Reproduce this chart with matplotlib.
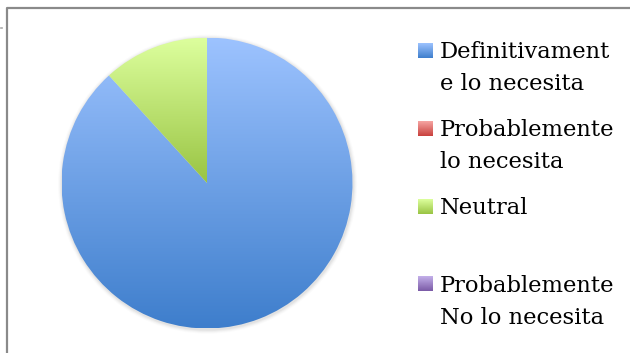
import numpy as np
import matplotlib
matplotlib.use("Agg")
import matplotlib.pyplot as plt
from matplotlib.colors import LinearSegmentedColormap
from matplotlib.patches import Circle

# survey answers
categories = ["Definitivamente lo necesita", "Probablemente lo necesita",
              "Neutral", "Probablemente No lo necesita"]
legend_labels = ["Definitivament\ne lo necesita", "Probablemente\nlo necesita",
                 "Neutral", "Probablemente\nNo lo necesita"]
counts = [15, 0, 2, 0]

# top/bottom colours of each slice gradient
grad_top = ["#9dc3ff", "#f6a5a3", "#ddff9e", "#c4b0ea"]
grad_bottom = ["#3e7ecc", "#c8403c", "#99c443", "#7a5aa6"]

W, H, DPI = 630, 353, 100
fig = plt.figure(figsize=(W / DPI, H / DPI), dpi=DPI)
fig.patch.set_facecolor("white")

# overlay in pixel units for frame and legend
over = fig.add_axes([0, 0, 1, 1])
over.axis("off")
over.plot([7, 7, W + 5], [H + 5, 8, 8], color="#8a8a8a", lw=1.6, solid_capstyle="butt")
over.plot([0.5, 2], [28, 28], color="#aaaaaa", lw=1.2)

# pie axes
cx, cy, r = 207, 183, 145.5
ax = fig.add_axes([(cx - r) / W, (H - cy - r) / H, 2 * r / W, 2 * r / H])
ax.axis("off")

# soft shadow
for k, a in enumerate([0.04, 0.035, 0.025, 0.015]):
    ax.add_patch(Circle((0.004, -0.008), 1.0 + 0.007 * (k + 1), color="black",
                        alpha=a, lw=0, zorder=0, clip_on=False))

wedges, _ = ax.pie(counts, radius=1, startangle=90, counterclock=False,
                   wedgeprops=dict(linewidth=0))

grad = np.linspace(0, 1, 256).reshape(-1, 1)
for w, c0, c1 in zip(wedges, grad_top, grad_bottom):
    if w.theta2 - w.theta1 <= 0:
        w.set_visible(False)
        continue
    w.set_facecolor("none")
    cmap = LinearSegmentedColormap.from_list("g", [c0, c1])
    bb = w.get_path().get_extents()
    im = ax.imshow(grad, cmap=cmap, aspect="auto",
                   extent=(-1, 1, bb.y0, bb.y1), origin="upper", zorder=1)
    im.set_clip_path(w)

ax.set_xlim(-1, 1)
ax.set_ylim(-1, 1)
ax.set_aspect("auto")

# legend
box_y = [51, 129, 207, 284]
for lab, c0, c1, y in zip(legend_labels, grad_top, grad_bottom, box_y):
    cmap = LinearSegmentedColormap.from_list("g", [c0, c1])
    over.imshow(grad, cmap=cmap, aspect="auto", extent=(418, 433, y + 7.5, y - 7.5), zorder=2)
    for i, line in enumerate(lab.split("\n")):
        over.text(440, y + 7.5 + 32 * i, line, fontsize=16.3, family="DejaVu Serif",
                  va="baseline", ha="left", color="black")

over.set_xlim(0, W)
over.set_ylim(H, 0)

fig.savefig("out.png", dpi=DPI)
